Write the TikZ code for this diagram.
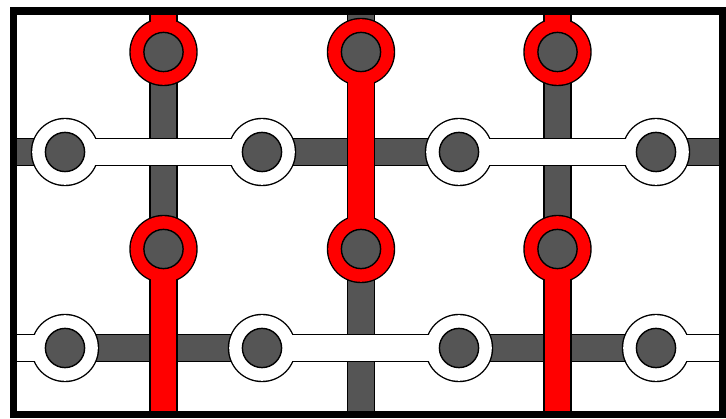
\documentclass[tikz,border=0pt]{standalone}
\definecolor{slate}{HTML}{555555}
\definecolor{hot}{HTML}{FF0000}
\tikzset{
  barout/.style={line width=28.6pt,black},
  barfill/.style={line width=25.8pt},
  ringout/.style={fill=black},
  hole/.style={fill=slate,draw=black,line width=1.4pt}
}
\begin{document}
\begin{tikzpicture}[x=1pt,y=-1pt]
\useasboundingbox (0,0) rectangle (726,419);
\fill[white] (0,0) rectangle (726,419);
% named points
\foreach \n/\x in {1/163.5,2/361,3/557.5}{
  \coordinate (t\n) at (\x,8);
  \coordinate (ra\n) at (\x,52);
  \coordinate (rb\n) at (\x,249);
  \coordinate (b\n) at (\x,418);
}
\foreach \n/\x in {1/65,2/262,3/459,4/656}{
  \coordinate (wa\n) at (\x,152);
  \coordinate (wb\n) at (\x,348);
}
\coordinate (la) at (10,152); \coordinate (ea) at (726,152);
\coordinate (lb) at (10,348); \coordinate (eb) at (726,348);
\begin{scope}
\clip (13.5,11) rectangle (723,414.5);
% grey bars
\foreach \a/\b in {la/ea,lb/eb,t1/b1,t2/b2,t3/b3}{ \draw[barout] (\a) -- (\b); }
\foreach \a/\b in {la/ea,lb/eb,t1/b1,t2/b2,t3/b3}{ \draw[barfill,draw=slate] (\a) -- (\b); }
% outlines of red and white shapes
\foreach \a/\b in {t1/ra1,rb1/b1,ra2/rb2,t3/ra3,rb3/b3,wa1/wa2,wa3/wa4,lb/wb1,wb2/wb3,wb4/eb}{ \draw[barout] (\a) -- (\b); }
\foreach \p in {ra1,ra2,ra3,rb1,rb2,rb3,wa1,wa2,wa3,wa4,wb1,wb2,wb3,wb4}{ \fill[ringout] (\p) circle (34.2); }
% colour fills
\foreach \a/\b in {t1/ra1,rb1/b1,ra2/rb2,t3/ra3,rb3/b3}{ \draw[barfill,draw=hot] (\a) -- (\b); }
\foreach \a/\b in {wa1/wa2,wa3/wa4,lb/wb1,wb2/wb3,wb4/eb}{ \draw[barfill,draw=white] (\a) -- (\b); }
\foreach \p in {ra1,ra2,ra3,rb1,rb2,rb3}{ \fill[hot] (\p) circle (32.8); }
\foreach \p in {wa1,wa2,wa3,wa4,wb1,wb2,wb3,wb4}{ \fill[white] (\p) circle (32.8); }
% inner grey discs
\foreach \p in {ra1,ra2,ra3,rb1,rb2,rb3,wa1,wa2,wa3,wa4,wb1,wb2,wb3,wb4}{ \draw[hole] (\p) circle (19.6); }
\end{scope}
\draw[line width=7.5pt] (13.5,11) rectangle (723,414.5);
\end{tikzpicture}
\end{document}
